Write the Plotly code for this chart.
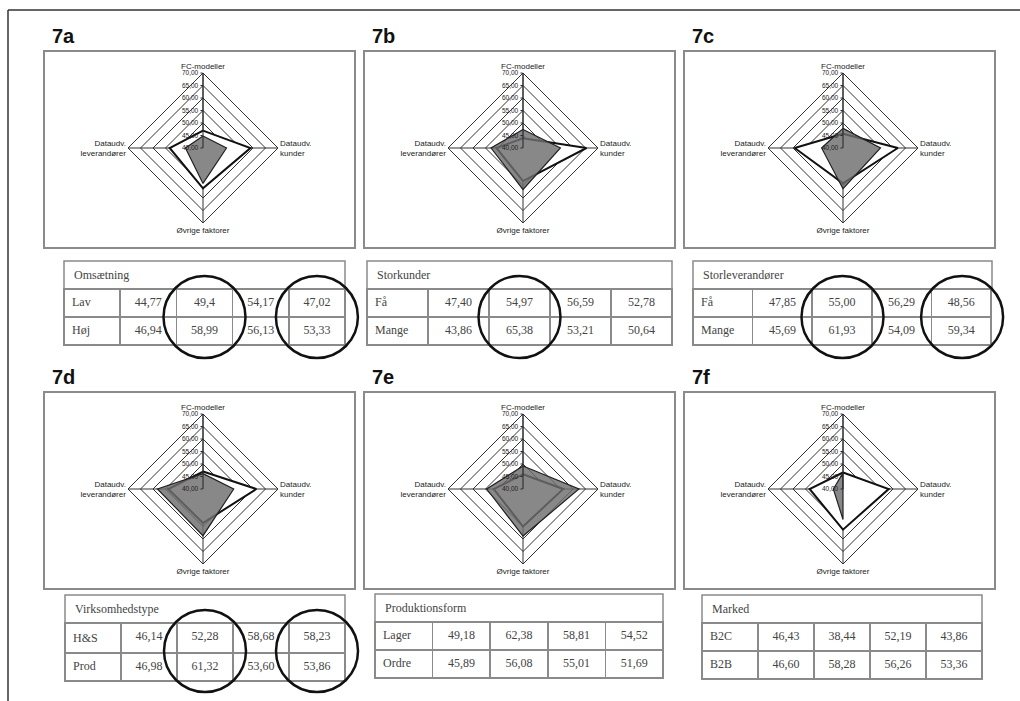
import plotly.graph_objects as go

W, H = 1020, 701

# ---- data -------------------------------------------------------------
AXES = ["FC-modeller", "Dataudv.<br>kunder", "Øvrige faktorer", "Dataudv.<br>leverandører"]

panel_ids = ["7a", "7b", "7c", "7d", "7e", "7f"]
table_titles = ["Omsætning", "Storkunder", "Storleverandører",
                "Virksomhedstype", "Produktionsform", "Marked"]
row_labels = [["Lav", "Høj"], ["Få", "Mange"], ["Få", "Mange"],
              ["H&S", "Prod"], ["Lager", "Ordre"], ["B2C", "B2B"]]
# values per group, in axis order: FC-modeller, kunder, øvrige, leverandører
values_row1 = [
    ["44,77", "49,4", "54,17", "47,02"],
    ["47,40", "54,97", "56,59", "52,78"],
    ["47,85", "55,00", "56,29", "48,56"],
    ["46,14", "52,28", "58,68", "58,23"],
    ["49,18", "62,38", "58,81", "54,52"],
    ["46,43", "38,44", "52,19", "43,86"],
]
values_row2 = [
    ["46,94", "58,99", "56,13", "53,33"],
    ["43,86", "65,38", "53,21", "50,64"],
    ["45,69", "61,93", "54,09", "59,34"],
    ["46,98", "61,32", "53,60", "53,86"],
    ["45,89", "56,08", "55,01", "51,69"],
    ["46,60", "58,28", "56,26", "53,36"],
]
circled_cols = [[2, 4], [2], [2, 4], [2, 4], [], []]

R_MIN, R_MAX, R_STEP = 40, 70, 5

# ---- layout geometry (pixels) -----------------------------------------
frame_x0 = [44, 364, 684]
frame_y0 = [51, 392]
FRAME_W, FRAME_H = 311, 197
RADIUS = 75
table_x = [(64, 345), (367, 672), (693, 992), (65, 345), (375, 663), (702, 982)]
table_top = [261, 261, 261, 595, 594, 595]
ROW_H = 28
CIRCLE_R = 41

LINE_GREY = "#8a8a8a"
SANS = "Liberation Sans, Arial, sans-serif"
SERIF = "Liberation Serif, Times New Roman, serif"


def px(x):
    return x / W


def py(y):
    return 1 - y / H


def num(s):
    return float(s.replace(",", "."))


fig = go.Figure()
shapes = []
annotations = []

for i, pid in enumerate(panel_ids):
    col, row = i % 3, i // 3
    fx, fy = frame_x0[col], frame_y0[row]
    cx, cy = fx + 159, fy + 97
    pname = "polar" if i == 0 else f"polar{i + 1}"
    sub = "polar" if i == 0 else f"polar{i + 1}"

    r1 = [max(num(v), R_MIN) for v in values_row1[i]]
    r2 = [max(num(v), R_MIN) for v in values_row2[i]]
    theta = AXES + AXES[:1]

    # second group: outlined polygon
    fig.add_trace(go.Scatterpolar(
        r=r2 + r2[:1], theta=theta, subplot=sub, mode="lines",
        fill="toself", fillcolor="white",
        line=dict(color="#111", width=2), showlegend=False,
        name=row_labels[i][1]))
    # first group: shaded polygon
    fig.add_trace(go.Scatterpolar(
        r=r1 + r1[:1], theta=theta, subplot=sub, mode="lines",
        fill="toself", fillcolor="rgba(110,110,110,0.82)",
        line=dict(color="#222", width=1.2), showlegend=False,
        name=row_labels[i][0]))

    fig.layout[pname] = dict(
        domain=dict(x=[px(cx - RADIUS), px(cx + RADIUS)],
                    y=[py(cy + RADIUS), py(cy - RADIUS)]),
        bgcolor="rgba(0,0,0,0)",
        gridshape="linear",
        radialaxis=dict(range=[R_MIN, R_MAX], tick0=R_MIN, dtick=R_STEP,
                        tickformat=".2f", angle=90, tickangle=90,
                        side="counterclockwise",
                        showline=True, linecolor="#222", linewidth=1,
                        gridcolor="#333", gridwidth=1,
                        ticks="outside", ticklen=2, tickcolor="#222",
                        tickfont=dict(family=SANS, size=6.5, color="#222")),
        angularaxis=dict(direction="clockwise", rotation=90,
                         linecolor="#333", linewidth=1,
                         gridcolor="#333", gridwidth=1, ticks="",
                         tickfont=dict(family=SANS, size=8, color="#222")),
    )

    # panel frame and heading
    shapes.append(dict(type="rect", xref="paper", yref="paper",
                       x0=px(fx), x1=px(fx + FRAME_W),
                       y0=py(fy + FRAME_H), y1=py(fy),
                       line=dict(color=LINE_GREY, width=2)))
    annotations.append(dict(text=f"<b>{pid}</b>", xref="paper", yref="paper",
                            x=px(fx + 6), y=py(fy - 2), xanchor="left",
                            yanchor="bottom", showarrow=False,
                            font=dict(family=SANS, size=20, color="#111")))

    # table: title row + two data rows
    tx0, tx1 = table_x[i]
    ttop = table_top[i]
    data_top = ttop + ROW_H
    shapes.append(dict(type="rect", xref="paper", yref="paper",
                       x0=px(tx0), x1=px(tx1), y0=py(data_top), y1=py(ttop),
                       line=dict(color=LINE_GREY, width=1.5)))
    annotations.append(dict(text=table_titles[i], xref="paper", yref="paper",
                            x=px(tx0 + 8), y=py(ttop + ROW_H / 2),
                            xanchor="left", yanchor="middle", showarrow=False,
                            font=dict(family=SERIF, size=12, color="#444")))

    header_vals = [row_labels[i][0]] + values_row1[i]
    cell_vals = [[row_labels[i][1]]] + [[v] for v in values_row2[i]]
    fig.add_trace(go.Table(
        domain=dict(x=[px(tx0), px(tx1)],
                    y=[py(data_top + 2 * ROW_H + 4), py(data_top)]),
        columnwidth=[1, 1, 1, 1, 1],
        header=dict(values=header_vals, height=ROW_H,
                    align=["left"] + ["center"] * 4,
                    fill_color="white",
                    line=dict(color=LINE_GREY, width=1.5),
                    font=dict(family=SERIF, size=12, color="#444")),
        cells=dict(values=cell_vals, height=ROW_H,
                   align=["left"] + ["center"] * 4,
                   fill_color="white",
                   line=dict(color=LINE_GREY, width=1.5),
                   font=dict(family=SERIF, size=12, color="#444")),
    ))

    # highlight rings around selected columns
    cw = (tx1 - tx0) / 5
    ymid = data_top + ROW_H
    for c in circled_cols[i]:
        xc = tx0 + (c + 0.5) * cw
        shapes.append(dict(type="circle", xref="paper", yref="paper",
                           x0=px(xc - CIRCLE_R), x1=px(xc + CIRCLE_R),
                           y0=py(ymid + CIRCLE_R), y1=py(ymid - CIRCLE_R),
                           line=dict(color="#111", width=2.5)))

# page border (top and left edges)
shapes.append(dict(type="line", xref="paper", yref="paper",
                   x0=px(8), x1=1, y0=py(10), y1=py(10),
                   line=dict(color="#333", width=1.5)))
shapes.append(dict(type="line", xref="paper", yref="paper",
                   x0=px(8), x1=px(8), y0=0, y1=py(10),
                   line=dict(color="#333", width=1.5)))

fig.update_layout(
    width=W, height=H,
    margin=dict(l=0, r=0, t=0, b=0),
    paper_bgcolor="white",
    separators=",.",
    showlegend=False,
    shapes=shapes,
    annotations=annotations,
)

fig.write_html("out.html")
